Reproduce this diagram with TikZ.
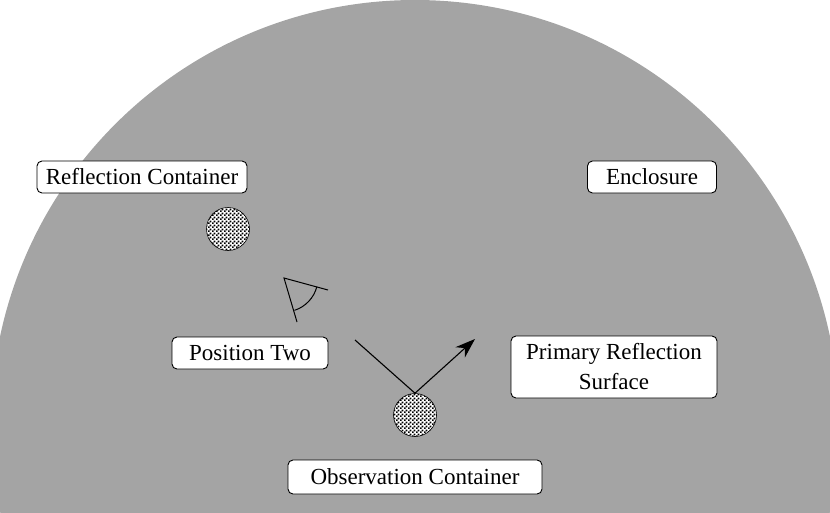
\documentclass[tikz,border=0pt]{standalone}
\usepackage{fontspec}
\setmainfont{Liberation Serif}
\usetikzlibrary{patterns.meta,arrows.meta}
\tikzdeclarepattern{name=finechk,type=uncolored,bottom left={(0,0)},top right={(4pt,4pt)},tile size={(4pt,4pt)},
  code={\fill (0,0) rectangle (2pt,2pt); \fill (2pt,2pt) rectangle (4pt,4pt);}}
\begin{document}
\begin{tikzpicture}[x=1pt,y=-1pt,
  lbl/.style={draw=black,fill=white,rounded corners=5pt,line width=0.9pt,font=\fontsize{23}{30}\selectfont,inner sep=0pt,align=center},
  ball/.style={circle,draw=black,line width=0.6pt,minimum size=43pt,inner sep=0pt,fill=white,postaction={pattern=finechk}}]
\useasboundingbox (0,0) rectangle (830,512);
\begin{scope}
\clip (0,0) rectangle (830,512);
\fill[fill={rgb,255:red,164;green,164;blue,164}] (415,424) circle (424);
\end{scope}
\node[lbl,minimum width=210pt,minimum height=32pt] (rc) at (142,177) {Reflection Container};
\node[lbl,minimum width=129pt,minimum height=32pt] (enc) at (652,177) {Enclosure};
\node[lbl,minimum width=156pt,minimum height=32pt] (p2) at (250,353) {Position Two};
\node[lbl,minimum width=206pt,minimum height=62pt] (prs) at (614,367) {Primary Reflection\\Surface};
\node[lbl,minimum width=254pt,minimum height=34pt] (oc) at (415,477) {Observation Container};
\node[ball] (b1) at (228,229) {};
\node[ball] (b2) at (415,415) {};
\coordinate (ain) at (355,340);
\coordinate (aout) at (475,339);
\draw[line width=1.1pt,-{Stealth[length=20pt,width=14pt]}] (ain) -- (b2.north) -- (aout);
\coordinate (eye) at (284,278);
\draw[line width=1pt] (328,290) -- (eye) -- (297,322);
\draw[line width=1pt] (eye) ++(15:34) arc[start angle=15,end angle=72,radius=34];
\end{tikzpicture}
\end{document}
